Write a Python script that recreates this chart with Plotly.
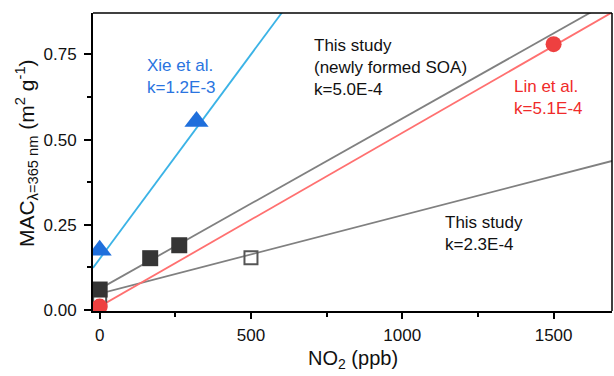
import plotly.graph_objects as go
import numpy as np

# Data
xie_x = [0, 320]
xie_y = [0.175, 0.553]
soa_x = [0, 167, 263]
soa_y = [0.06, 0.152, 0.19]
open_x = [0, 500]
open_y = [0.028, 0.153]
lin_x = [0, 1500]
lin_y = [0.01, 0.78]

# fit lines: (intercept, slope)
fit_xie = (0.15, 1.2e-3)
fit_soa = (0.062, 5.0e-4)
fit_lin = (0.01, 5.1e-4)
fit_open = (0.048, 2.3e-4)

XR = [-22, 1693]
YR = [-0.003, 0.8716]

fig = go.Figure()

def line(fit, color):
    xs = np.array(XR)
    fig.add_trace(go.Scatter(x=xs, y=fit[0] + fit[1] * xs, mode="lines",
                             line=dict(color=color, width=1.8), showlegend=False,
                             hoverinfo="skip"))

line(fit_open, "#808080")
line(fit_soa, "#808080")
line(fit_lin, "#ff7070")
line(fit_xie, "#3bb3e6")

fig.add_trace(go.Scatter(x=open_x, y=open_y, mode="markers",
                         marker=dict(symbol="square-open", size=13, color="#555555",
                                     line=dict(width=2, color="#555555")), showlegend=False))
fig.add_trace(go.Scatter(x=soa_x, y=soa_y, mode="markers",
                         marker=dict(symbol="square", size=16, color="#353535"), showlegend=False))
fig.add_trace(go.Scatter(x=lin_x, y=lin_y, mode="markers",
                         marker=dict(symbol="circle", size=16, color="#ee4040"), showlegend=False))
fig.add_trace(go.Scatter(x=xie_x, y=xie_y, mode="markers",
                         marker=dict(symbol="triangle-up", size=21, color="#1f6fdc"), showlegend=False))

font = "Liberation Sans, Arial, sans-serif"
ann = [
    dict(x=150, y=0.686, text="Xie et al.<br>k=1.2E-3", color="#2a74e0"),
    dict(x=701, y=0.713, text="This study<br>(newly formed SOA)<br>k=5.0E-4", color="#111111"),
    dict(x=1363, y=0.625, text="Lin et al.<br>k=5.1E-4", color="#f02a2a"),
    dict(x=1136, y=0.224, text="This study<br>k=2.3E-4", color="#111111"),
]
for a in ann:
    fig.add_annotation(x=a["x"], y=a["y"], text=a["text"], showarrow=False,
                       xanchor="left", yanchor="middle", align="left",
                       font=dict(family=font, size=17, color=a["color"]))

# axis titles
fig.add_annotation(xref="paper", yref="paper", x=0.5, y=0, yshift=-48,
                   text="NO<sub>2</sub> (ppb)", showarrow=False, xanchor="center", yanchor="middle",
                   font=dict(family=font, size=20, color="#111111"))
fig.add_annotation(xref="paper", yref="paper", x=0, y=0.53, xshift=-67,
                   text="MAC<sub>λ=365 nm</sub> (m<sup>2</sup> g<sup>-1</sup>)", textangle=-90,
                   showarrow=False, xanchor="center", yanchor="middle",
                   font=dict(family=font, size=21, color="#111111"))

# frame top/right
fig.add_shape(type="line", xref="paper", yref="paper", x0=0, x1=1, y0=1, y1=1,
              line=dict(color="black", width=1.5))
fig.add_shape(type="line", xref="paper", yref="paper", x0=1, x1=1, y0=0, y1=1,
              line=dict(color="black", width=1.5))

fig.update_xaxes(range=XR, showgrid=False, zeroline=False, showline=True, linecolor="black",
                 linewidth=2, ticks="outside", ticklen=6, tickwidth=1.5, tickcolor="black",
                 tick0=0, dtick=500, ticklabelstandoff=2,
                 minor=dict(dtick=250, tick0=0, ticks="outside", ticklen=4, tickwidth=1.5, tickcolor="black"),
                 tickfont=dict(family=font, size=17, color="#111111"))
fig.update_yaxes(range=YR, showgrid=False, zeroline=False, showline=True, linecolor="black",
                 linewidth=2, ticks="outside", ticklen=7, tickwidth=1.5, tickcolor="black",
                 tick0=0, dtick=0.25, tickformat=".2f", ticklabelstandoff=4,
                 minor=dict(dtick=0.125, tick0=0, ticks="outside", ticklen=4, tickwidth=1.5, tickcolor="black"),
                 tickfont=dict(family=font, size=17, color="#111111"))

fig.update_layout(width=614, height=376, margin=dict(l=93, r=2, t=13, b=65),
                  plot_bgcolor="white", paper_bgcolor="white")

fig.write_html("out.html")
